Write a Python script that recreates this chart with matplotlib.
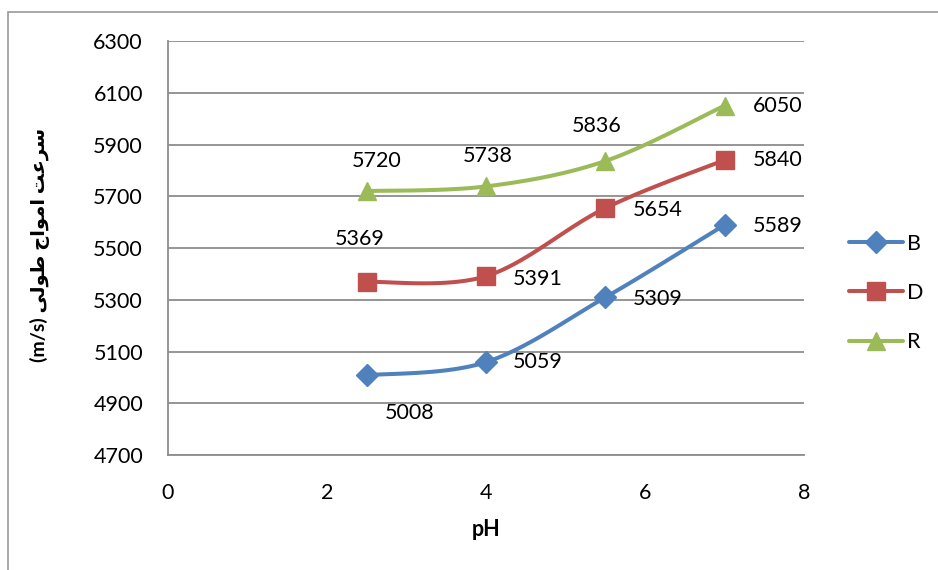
import numpy as np
import matplotlib
matplotlib.use("Agg")
import matplotlib.pyplot as plt
from matplotlib.patches import Rectangle
from matplotlib.lines import Line2D

plt.rcParams['font.family'] = ['Lato', 'DejaVu Sans']

ph = [2.5, 4, 5.5, 7]
series_names = ['B', 'D', 'R']
b_vals = [5008, 5059, 5309, 5589]
d_vals = [5369, 5391, 5654, 5840]
r_vals = [5720, 5738, 5836, 6050]
x_ticks = [0, 2, 4, 6, 8]
y_ticks = [4700, 4900, 5100, 5300, 5500, 5700, 5900, 6100, 6300]

colors = ['#4F81BD', '#C0504D', '#9BBB59']
markers = ['D', 's', '^']
marker_sizes = [11, 13, 13]

# label offsets (points) for each value label
offsets = [
    [(31, -27), (37, 0), (38, -1), (38, -1)],
    [(-5, 31), (37, -2), (38, -1), (38, 0)],
    [(7, 22), (1, 22), (-6, 25), (38, 0)],
]


def smooth(xs, ys, n=40):
    """Catmull-Rom style Bezier smoothing through the points."""
    xs = np.asarray(xs, float)
    ys = np.asarray(ys, float)
    px, py = [], []
    k = len(xs)
    for i in range(k - 1):
        p0 = np.array([xs[max(i - 1, 0)], ys[max(i - 1, 0)]])
        p1 = np.array([xs[i], ys[i]])
        p2 = np.array([xs[i + 1], ys[i + 1]])
        p3 = np.array([xs[min(i + 2, k - 1)], ys[min(i + 2, k - 1)]])
        c1 = p1 + (p2 - p0) / 6.0
        c2 = p2 - (p3 - p1) / 6.0
        t = np.linspace(0, 1, n)[:, None]
        pts = ((1 - t) ** 3) * p1 + 3 * ((1 - t) ** 2) * t * c1 + 3 * (1 - t) * t ** 2 * c2 + t ** 3 * p2
        px.extend(pts[:, 0])
        py.extend(pts[:, 1])
    return np.array(px), np.array(py)


fig = plt.figure(figsize=(9.38, 5.70), dpi=100)
ax = fig.add_axes([168 / 938, 1 - 455 / 570, (804 - 168) / 938, (455 - 41) / 570])

# outer frame of the chart area
fig.patches.append(Rectangle((8 / 938, -0.1), 1.2, 1 - 12 / 570 + 0.1,
                             transform=fig.transFigure, fill=False,
                             edgecolor='#9A9A9A', linewidth=1.2))

grid_color = '#8C8C8C'
for yv in y_ticks:
    ax.axhline(yv, color=grid_color, linewidth=1.3, zorder=0)

for vals, col, mk, ms, offs, name in zip([b_vals, d_vals, r_vals], colors, markers,
                                          marker_sizes, offsets, series_names):
    sx, sy = smooth(ph, vals)
    ax.plot(sx, sy, color=col, linewidth=2.9, solid_capstyle='round', zorder=3)
    ax.plot(ph, vals, linestyle='none', marker=mk, markersize=ms, color=col,
            markeredgecolor=col, zorder=4)
    for xv, yv, off in zip(ph, vals, offs):
        ax.annotate(str(yv), (xv, yv), xytext=off, textcoords='offset points',
                    ha='center', va='center', fontsize=15.5, color='black')

ax.set_xlim(0, 8)
ax.set_ylim(4700, 6300)
ax.set_xticks(x_ticks)
ax.set_yticks(y_ticks)
ax.tick_params(axis='both', length=0, labelsize=15.5, colors='black')
ax.tick_params(axis='x', pad=20)
ax.tick_params(axis='y', pad=18)
for s in ['top', 'right']:
    ax.spines[s].set_visible(False)
for s in ['left', 'bottom']:
    ax.spines[s].set_color(grid_color)
    ax.spines[s].set_linewidth(1.3)

ax.set_xlabel('pH', fontsize=15.5, fontweight='bold', labelpad=12)

ylabel = ('(m/s) ' + '\uFEF0\uFEDF\uFEEE\uFEC3' + ' '
          + '\uFE9D\uFE8D\uFEEE\uFEE3\uFE8D' + ' ' + '\uFE96\uFECB\uFEAE\uFEB3')
fig.text(40 / 938, 1 - 245 / 570, ylabel, rotation=90, ha='center', va='center',
         fontsize=14, fontweight='bold', family=['Lato', 'DejaVu Sans'])

handles = [Line2D([0], [0], color=c, marker=m, markersize=ms, linewidth=2.9,
                  solid_capstyle='round')
           for c, m, ms in zip(colors, markers, marker_sizes)]
fig.legend(handles, series_names, loc='center left',
           bbox_to_anchor=(849 / 938, 1 - 293 / 570), frameon=False,
           fontsize=15.5, handlelength=2.5, handletextpad=0.2,
           labelspacing=1.36, borderpad=0, borderaxespad=0)

fig.savefig('out.png', dpi=100)
